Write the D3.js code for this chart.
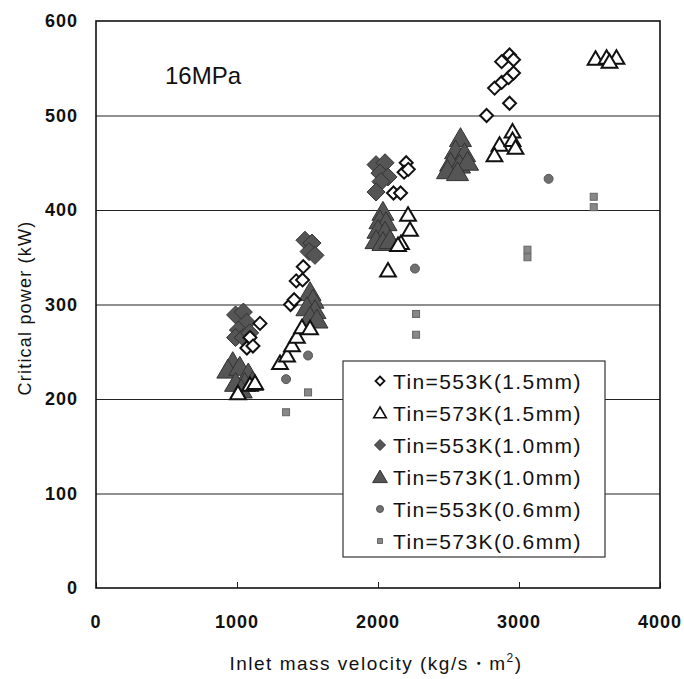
<!DOCTYPE html>
<html>
<head>
<meta charset="utf-8">
<script src="https://cdn.jsdelivr.net/npm/d3@7"></script>
<style>
  body { margin: 0; background: #fff; }
  text { font-family: "Liberation Sans", Arial, sans-serif; fill: #111; }
</style>
</head>
<body>
<svg id="chart" width="684" height="679"></svg>
<script>
// values: [inlet mass velocity, critical power]
const open553_15 = [[1163,280],[1092,265],[1070,254],[1113,256],[1380,300],[1405,305],[1420,325],[1465,326],[1470,340],
  [2200,450],[2185,440],[2215,443],[2110,418],[2160,418],
  [2877,557],[2933,564],[2961,559],[2827,529],[2877,535],[2926,540],[2961,545],[2933,513],[2770,500]];
const open573_15 = [[1007,206],[1092,215],[1128,217],[1305,238],[1355,246],[1390,257],[1425,266],[1461,276],[1518,275],
  [2071,336],[2213,395],[2227,379],[2163,365],[2142,363],
  [2862,469],[2826,458],[2954,483],[2954,474],[2975,466],
  [3543,560],[3621,561],[3691,561],[3642,557]];
const fill553_10 = [[990,289],[1045,292],[1070,281],[1010,273],[990,265],[1045,265],[1090,270],
  [1482,368],[1532,365],[1511,356],[1553,352],
  [1986,448],[2050,450],[2014,439],[2071,435],[2021,430],[1986,419]];
const fill573_10 = [[970,239],[935,231],[1020,234],[1080,227],[990,217],[1055,217],[1110,218],[1030,210],
  [1518,313],[1539,305],[1496,297],[1553,294],[1518,287],[1567,284],
  [2035,398],[2014,389],[2057,387],[2000,379],[2050,377],[1986,368],[2035,366],[2085,368],
  [2585,476],[2550,463],[2614,460],[2515,450],[2578,448],[2635,451],[2493,442],[2564,440]];
const dot553_06 = [[1348,221],[1504,246],[2262,338],[3210,433]];
const sq573_06 = [[1348,186],[1504,207],[2270,290],[2270,268],[3060,358],[3060,350],[3530,414],[3530,403]];

const legendLabels = ["Tin=553K(1.5mm)", "Tin=573K(1.5mm)", "Tin=553K(1.0mm)",
  "Tin=573K(1.0mm)", "Tin=553K(0.6mm)", "Tin=573K(0.6mm)"];
const xTicks = [0, 1000, 2000, 3000, 4000];
const yTicks = [0, 100, 200, 300, 400, 500, 600];

const svg = d3.select("#chart");
const margin = {top: 21, right: 24, bottom: 91, left: 96};
const width = 684 - margin.left - margin.right;
const height = 679 - margin.top - margin.bottom;

const x = d3.scaleLinear().domain([0, 4000]).range([0, width]);
const y = d3.scaleLinear().domain([0, 600]).range([height, 0]);

const g = svg.append("g").attr("transform", `translate(${margin.left},${margin.top})`);

// gridlines
g.append("g")
  .call(d3.axisLeft(y).tickValues(yTicks.slice(1, -1)).tickSize(-width).tickFormat(""))
  .call(a => a.select(".domain").remove())
  .selectAll("line").attr("stroke", "#222").attr("stroke-width", 1.2);

// x axis with short inward ticks
const xa = g.append("g").attr("transform", `translate(0,${height})`)
  .call(d3.axisBottom(x).tickValues(xTicks).tickSize(-6).tickFormat(""));
xa.select(".domain").remove();
xa.selectAll("line").attr("stroke", "#222");

// tick labels
g.append("g").selectAll("text").data(xTicks).join("text")
  .attr("x", d => x(d)).attr("y", height + 40)
  .attr("text-anchor", "middle").attr("font-size", 18).attr("font-weight", "bold")
  .attr("letter-spacing", 1)
  .text(d => d);
g.append("g").selectAll("text").data(yTicks).join("text")
  .attr("x", -18).attr("y", d => y(d) + 6)
  .attr("text-anchor", "end").attr("font-size", 18).attr("font-weight", "bold")
  .attr("letter-spacing", 1)
  .text(d => d);

// frame
g.append("rect").attr("width", width).attr("height", height)
  .attr("fill", "none").attr("stroke", "#111").attr("stroke-width", 1.6);

// markers
const diamond = s => `M0,${-s}L${s},0L0,${s}L${-s},0Z`;
const tri = s => `M0,${-s}L${s*1.05},${s*0.8}L${-s*1.05},${s*0.8}Z`;

function plot(data, shape, fill, stroke, sw) {
  g.append("g").selectAll("path").data(data).join("path")
    .attr("transform", d => `translate(${x(d[0])},${y(d[1])})`)
    .attr("d", shape)
    .attr("fill", fill).attr("stroke", stroke).attr("stroke-width", sw);
}
plot(fill553_10, diamond(9), "#555", "#333", 1);
plot(fill573_10, tri(10.5), "#555", "#333", 1);
plot(open553_15, diamond(6.5), "#fff", "#111", 2);
plot(open573_15, tri(7.5), "#fff", "#111", 2);
g.append("g").selectAll("circle").data(dot553_06).join("circle")
  .attr("cx", d => x(d[0])).attr("cy", d => y(d[1])).attr("r", 4.5)
  .attr("fill", "#707070").attr("stroke", "#555");
g.append("g").selectAll("rect").data(sq573_06).join("rect")
  .attr("x", d => x(d[0]) - 3.5).attr("y", d => y(d[1]) - 3.5)
  .attr("width", 7).attr("height", 7)
  .attr("fill", "#888").attr("stroke", "#666");

// pressure label
g.append("text").attr("x", 69).attr("y", 63).attr("font-size", 24).text("16MPa");

// legend
const lg = g.append("g").attr("transform", "translate(247,340)");
lg.append("rect").attr("width", 262).attr("height", 196)
  .attr("fill", "#fff").attr("stroke", "#333").attr("stroke-width", 1.2);
const legendMarks = [
  {d: diamond(4.5), fill: "#fff", stroke: "#111", sw: 1.8},
  {d: tri(6), fill: "#fff", stroke: "#111", sw: 1.6},
  {d: diamond(5.5), fill: "#555", stroke: "#333", sw: 1},
  {d: tri(7), fill: "#555", stroke: "#333", sw: 1},
  {d: "M0,0m-3.5,0a3.5,3.5 0 1,0 7,0a3.5,3.5 0 1,0 -7,0", fill: "#707070", stroke: "#555", sw: 1},
  {d: "M-2.5,-2.5h5v5h-5Z", fill: "#888", stroke: "#666", sw: 1}
];
legendLabels.forEach((lab, i) => {
  const cy = 20 + i * 32;
  lg.append("path").attr("transform", `translate(37,${cy})`)
    .attr("d", legendMarks[i].d).attr("fill", legendMarks[i].fill)
    .attr("stroke", legendMarks[i].stroke).attr("stroke-width", legendMarks[i].sw);
  lg.append("text").attr("x", 50).attr("y", cy + 7.5)
    .attr("font-size", 21).attr("letter-spacing", 1.4).text(lab);
});

// axis titles
svg.append("text").attr("x", 376).attr("y", 670).attr("text-anchor", "middle")
  .attr("font-size", 19).attr("letter-spacing", 1.5)
  .html('Inlet mass velocity (kg/s・m<tspan dy="-8" font-size="12">2</tspan><tspan dy="8">)</tspan>');
svg.append("text").attr("transform", "translate(31,308) rotate(-90)")
  .attr("text-anchor", "middle").attr("font-size", 18).attr("letter-spacing", 1.2)
  .text("Critical power (kW)");
</script>
</body>
</html>
